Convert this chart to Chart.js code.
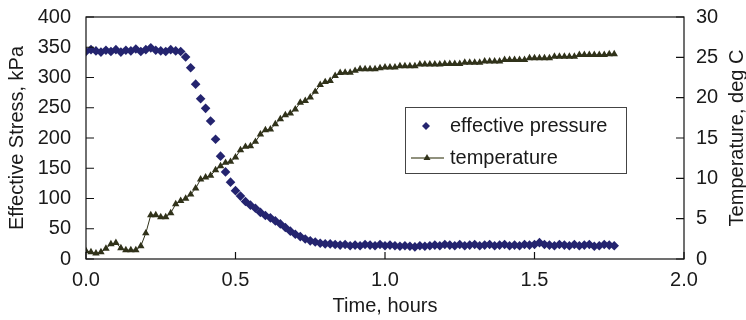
<!DOCTYPE html>
<html>
<head>
<meta charset="utf-8">
<script src="https://cdn.jsdelivr.net/npm/chart.js@4.4.1/dist/chart.umd.min.js"></script>
<style>
  html, body { margin: 0; padding: 0; background: #fff; }
  canvas { display: block; }
</style>
</head>
<body>
<canvas id="myChart" width="746" height="320"></canvas>
<script>
// time of each reading, minutes from start
const minutes = [
  0, 1, 2, 3, 4, 5, 6, 7, 8, 9, 10, 11, 12, 13, 14, 15, 16, 17, 18, 19,
  20, 21, 22, 23, 24, 25, 26, 27, 28, 29, 30, 31, 32, 33, 34, 35, 36, 37, 38, 39,
  40, 41, 42, 43, 44, 45, 46, 47, 48, 49, 50, 51, 52, 53, 54, 55, 56, 57, 58, 59,
  60, 61, 62, 63, 64, 65, 66, 67, 68, 69, 70, 71, 72, 73, 74, 75, 76, 77, 78, 79,
  80, 81, 82, 83, 84, 85, 86, 87, 88, 89, 90, 91, 92, 93, 94, 95, 96, 97, 98, 99,
  100, 101, 102, 103, 104, 105, 106
]

// effective stress, kPa
const pressure = [
  343, 346, 344, 342, 345, 343, 346, 342, 345, 344, 347, 343, 346, 349, 345, 344, 343, 346, 344, 343,
  334, 316, 289, 265, 249, 228, 198, 170, 144, 127, 113, 104, 95, 89, 84, 77, 72, 68, 63, 58,
  52, 46, 41, 37, 33, 30, 28, 26, 25, 25, 24, 23, 24, 22, 23, 22, 24, 23, 22, 24,
  22, 23, 22, 21, 22, 21, 20, 22, 21, 22, 23, 22, 24, 23, 22, 24, 22, 23, 24, 22,
  23, 24, 22, 23, 24, 22, 23, 22, 24, 23, 24, 27, 24, 23, 22, 24, 23, 22, 24, 22,
  23, 24, 21, 22, 24, 23, 22
]

// temperature, deg C
const temperature = [
  1.0, 0.85, 0.7, 0.85, 1.3, 1.85, 2.0, 1.35, 1.1, 1.1, 1.1, 1.6, 3.2, 5.45, 5.45, 5.2, 5.2, 5.7, 6.8, 7.2,
  7.5, 8.0, 8.76, 9.88, 10.13, 10.33, 11.03, 11.53, 11.94, 12.06, 12.6, 13.5, 13.92, 14.0, 14.54, 15.46, 15.99, 16.08, 16.73, 17.35,
  17.85, 18.06, 18.56, 19.38, 19.62, 20.04, 20.74, 21.6, 21.95, 22.1, 22.72, 23.09, 23.1, 23.1, 23.34, 23.55, 23.55, 23.55, 23.55, 23.68,
  23.76, 23.76, 23.76, 23.92, 23.92, 23.92, 23.92, 24.13, 24.13, 24.13, 24.13, 24.13, 24.2, 24.2, 24.2, 24.2, 24.35, 24.35, 24.35, 24.35,
  24.5, 24.5, 24.5, 24.5, 24.7, 24.7, 24.7, 24.7, 24.7, 24.9, 24.9, 24.9, 24.9, 24.9, 25.1, 25.1, 25.1, 25.1, 25.1, 25.3,
  25.3, 25.3, 25.3, 25.3, 25.3, 25.4, 25.4
]

const xTicks = [0, 0.5, 1.0, 1.5, 2.0]
const stressTicks = [0, 50, 100, 150, 200, 250, 300, 350, 400]
const tempTicks = [0, 5, 10, 15, 20, 25, 30]

const seriesNames = ["effective pressure", "temperature"]

const pressureColor = "#24246f"
const tempColor = "#30321a"
const font = { family: "'Liberation Sans', Arial, sans-serif", size: 20 }
const textColor = "#1a1a1a"

const pressurePoints = minutes.map((m, i) => ({ x: m / 60, y: pressure[i] }))
const tempPoints = minutes.map((m, i) => ({ x: m / 60, y: temperature[i] }))

function fitVertical(width) {
  return s => {
    s.width = width
    s.paddingTop = 0
    s.paddingBottom = 0
  }
}

// frame, inner tick marks, right title and boxed legend
const decorations = {
  id: "decorations",
  afterDatasetsDraw(chart) {
    const ctx = chart.ctx
    const ca = chart.chartArea
    const sx = chart.scales.x
    const sy = chart.scales.y
    const sy1 = chart.scales.y1

    ctx.save()
    ctx.strokeStyle = "#111"
    ctx.lineWidth = 1.2
    ctx.strokeRect(ca.left, ca.top, ca.right - ca.left, ca.bottom - ca.top)

    ctx.beginPath()
    xTicks.forEach(v => {
      const px = sx.getPixelForValue(v)
      ctx.moveTo(px, ca.bottom)
      ctx.lineTo(px, ca.bottom - 7)
    })
    stressTicks.forEach(v => {
      const py = sy.getPixelForValue(v)
      ctx.moveTo(ca.left, py)
      ctx.lineTo(ca.left + 8, py)
    })
    tempTicks.forEach(v => {
      const py = sy1.getPixelForValue(v)
      ctx.moveTo(ca.right, py)
      ctx.lineTo(ca.right - 8, py)
    })
    ctx.stroke()

    // right axis title, reading bottom to top like the left one
    ctx.fillStyle = textColor
    ctx.font = font.size + "px " + font.family
    ctx.textAlign = "center"
    ctx.textBaseline = "middle"
    ctx.translate(chart.width - 9, (ca.top + ca.bottom) / 2)
    ctx.rotate(-Math.PI / 2)
    ctx.fillText("Temperature, deg C", 0, 0)
    ctx.restore()

    // legend box
    const bx = ca.left + 319
    const by = ca.top + 90
    const bw = 221
    const bh = 66
    ctx.save()
    ctx.fillStyle = "#fff"
    ctx.fillRect(bx, by, bw, bh)
    ctx.strokeStyle = "#444"
    ctx.lineWidth = 1
    ctx.strokeRect(bx + 0.5, by + 0.5, bw, bh)

    const row1 = by + 19
    const row2 = by + 51
    ctx.fillStyle = pressureColor
    ctx.beginPath()
    ctx.moveTo(bx + 21, row1 - 4)
    ctx.lineTo(bx + 25, row1)
    ctx.lineTo(bx + 21, row1 + 4)
    ctx.lineTo(bx + 17, row1)
    ctx.closePath()
    ctx.fill()

    ctx.strokeStyle = "#6b6d52"
    ctx.lineWidth = 1.5
    ctx.beginPath()
    ctx.moveTo(bx + 6, row2)
    ctx.lineTo(bx + 39, row2)
    ctx.stroke()
    ctx.fillStyle = tempColor
    ctx.beginPath()
    ctx.moveTo(bx + 22, row2 - 4)
    ctx.lineTo(bx + 25.5, row2 + 2)
    ctx.lineTo(bx + 18.5, row2 + 2)
    ctx.closePath()
    ctx.fill()

    ctx.fillStyle = textColor
    ctx.font = font.size + "px " + font.family
    ctx.textAlign = "left"
    ctx.textBaseline = "middle"
    ctx.fillText(seriesNames[0], bx + 45, row1)
    ctx.fillText(seriesNames[1], bx + 45, row2)
    ctx.restore()
  }
}

const chart = new Chart(document.getElementById("myChart"), {
  type: "scatter",
  data: {
    datasets: [
      {
        label: seriesNames[1],
        data: tempPoints,
        yAxisID: "y1",
        showLine: true,
        borderColor: tempColor,
        borderWidth: 1,
        backgroundColor: tempColor,
        pointStyle: "triangle",
        pointRadius: 4.3,
        pointBorderWidth: 0,
        order: 2
      },
      {
        label: seriesNames[0],
        data: pressurePoints,
        yAxisID: "y",
        showLine: false,
        backgroundColor: pressureColor,
        borderColor: pressureColor,
        pointStyle: "rectRot",
        pointRadius: 4.8,
        pointBorderWidth: 0,
        order: 1
      }
    ]
  },
  options: {
    responsive: false,
    animation: false,
    devicePixelRatio: 1,
    layout: { padding: { top: 17, left: 0, right: 0, bottom: 0 } },
    plugins: {
      legend: { display: false },
      tooltip: { enabled: false }
    },
    scales: {
      x: {
        type: "linear",
        min: 0,
        max: 2,
        afterBuildTicks: s => { s.ticks = xTicks.map(v => ({ value: v })) },
        afterFit: s => { s.height = 61; s.paddingLeft = 0; s.paddingRight = 0 },
        ticks: {
          font: font,
          color: textColor,
          padding: 9,
          callback: v => v.toFixed(1)
        },
        grid: { display: false, drawTicks: false },
        border: { display: false },
        title: { display: true, text: "Time, hours", font: font, color: textColor, padding: { top: 0, bottom: 2 } }
      },
      y: {
        position: "left",
        min: 0,
        max: 400,
        afterBuildTicks: s => { s.ticks = stressTicks.map(v => ({ value: v })) },
        afterFit: fitVertical(86),
        ticks: { font: font, color: textColor, padding: 15 },
        grid: { display: false, drawTicks: false },
        border: { display: false },
        title: { display: true, text: "Effective Stress, kPa", font: font, color: textColor, padding: { top: 5, bottom: 0 } }
      },
      y1: {
        position: "right",
        min: 0,
        max: 30,
        afterBuildTicks: s => { s.ticks = tempTicks.map(v => ({ value: v })) },
        afterFit: fitVertical(62),
        ticks: { font: font, color: textColor, padding: 12 },
        grid: { display: false, drawTicks: false },
        border: { display: false }
      }
    }
  },
  plugins: [decorations]
})
</script>
</body>
</html>
